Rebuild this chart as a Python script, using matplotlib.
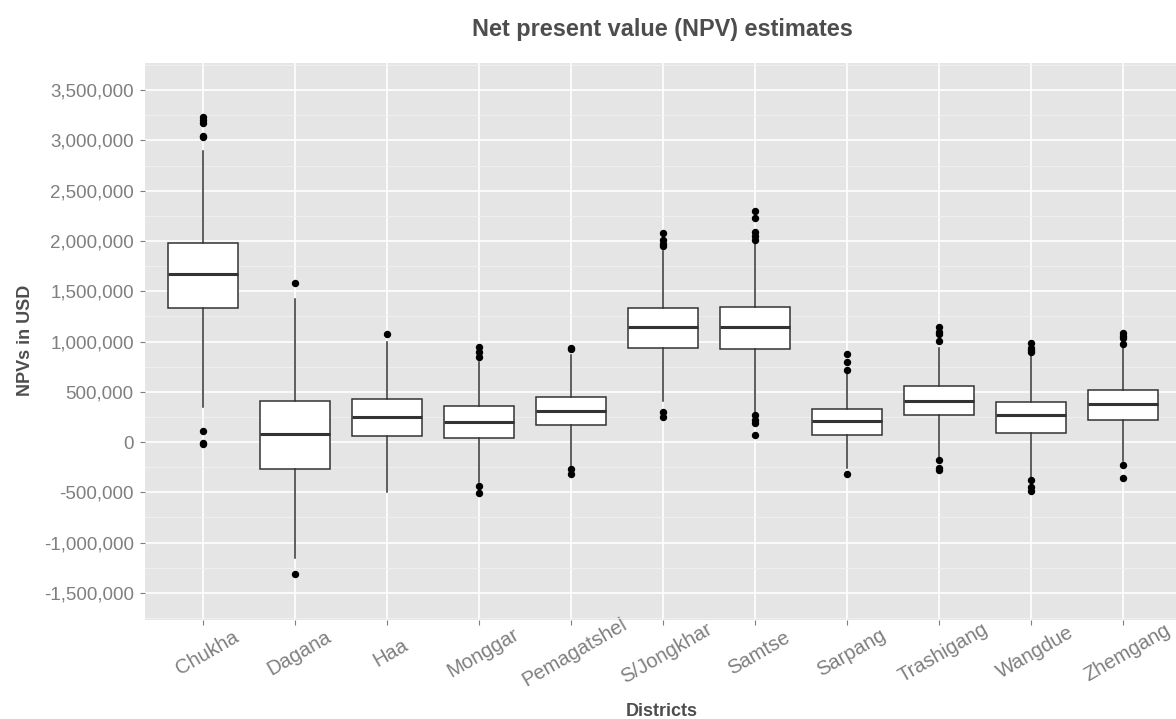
import matplotlib
matplotlib.use("Agg")
import matplotlib.pyplot as plt
from matplotlib.ticker import FuncFormatter, MultipleLocator
from matplotlib.transforms import ScaledTranslation

plt.rcParams['font.family'] = ['Liberation Sans', 'DejaVu Sans']

# NPV summary per district (USD)
districts = ["Chukha", "Dagana", "Haa", "Monggar", "Pemagatshel", "S/Jongkhar",
             "Samtse", "Sarpang", "Trashigang", "Wangdue", "Zhemgang"]
whisker_lo = [352000, -1151000, -501000, -395000, -239000, 409000,
              294000, -257000, -159000, -358000, -185000]
q1 = [1333000, -269000, 60000, 43000, 172000, 934000,
      921000, 73000, 272000, 86000, 215000]
median = [1668000, 80000, 252000, 196000, 305000, 1142000,
          1142000, 208000, 407000, 265000, 377000]
q3 = [1984000, 411000, 428000, 355000, 444000, 1333000,
      1343000, 327000, 553000, 397000, 513000]
whisker_hi = [2896000, 1420000, 998000, 793000, 866000, 1904000,
              1970000, 690000, 940000, 877000, 950000]
outliers = [
    [3230000, 3200000, 3175000, 3045000, 3030000, 105000, -5000, -20000],
    [1582000, -1310000],
    [1071000],
    [949000, 896000, 843000, -435000, -504000],
    [940000, 925000, -272000, -318000],
    [2076000, 2013000, 1970000, 1947000, 297000, 248000],
    [2300000, 2224000, 2086000, 2053000, 2013000, 264000, 221000, 188000, 66000],
    [875000, 799000, 716000, -314000],
    [1149000, 1099000, 1073000, 1007000, -175000, -258000, -281000],
    [990000, 940000, 917000, 891000, -374000, -447000, -490000],
    [1083000, 1056000, 1033000, 973000, -232000, -358000],
]

stats = []
for i, name in enumerate(districts):
    stats.append(dict(label=name, whislo=whisker_lo[i], q1=q1[i], med=median[i],
                      q3=q3[i], whishi=whisker_hi[i], fliers=outliers[i]))

W, H = 1176, 719
fig = plt.figure(figsize=(W / 100, H / 100), dpi=100)
ax = fig.add_axes([145 / W, (H - 620) / H, (W - 145) / W, (620 - 62.7) / H])
ax.set_facecolor('#E5E5E5')
for s in ax.spines.values():
    s.set_visible(False)

edge = '#333333'
ax.bxp(stats, positions=range(len(districts)), widths=0.76, patch_artist=True,
       showcaps=False,
       boxprops=dict(facecolor='white', edgecolor=edge, linewidth=1.1),
       whiskerprops=dict(color=edge, linewidth=1.1),
       medianprops=dict(color=edge, linewidth=2.2, solid_capstyle='butt'),
       flierprops=dict(marker='o', markersize=4.3, markerfacecolor='black',
                       markeredgecolor='black'),
       zorder=3)

ax.set_xlim(-0.63, 10.576)
ax.set_ylim(-1771000, 3774000)

ax.yaxis.set_major_locator(MultipleLocator(500000))
ax.yaxis.set_minor_locator(MultipleLocator(250000))
ax.yaxis.set_major_formatter(FuncFormatter(lambda v, p: f"{v:,.0f}"))

ax.grid(which='major', color='white', linewidth=1.2, zorder=0)
ax.grid(which='minor', axis='y', color='#F2F2F2', linewidth=0.6, zorder=0)
ax.set_axisbelow(True)

ax.tick_params(axis='y', which='major', length=3.6, width=0.8, color='#7f7f7f',
               labelcolor='#7f7f7f', labelsize=13.5, pad=4.5)
ax.tick_params(axis='y', which='minor', length=0)
ax.tick_params(axis='x', length=3.6, width=0.8, color='#7f7f7f',
               labelcolor='#7f7f7f', labelsize=14.5, pad=20)
ax.set_xticks(range(len(districts)))
ax.set_xticklabels(districts, rotation=30, ha='center', va='center',
                   rotation_mode='anchor')
# nudge the rotated labels a little to the right
nudge = ScaledTranslation(4 / 100, 0, fig.dpi_scale_trans)
for lab in ax.get_xticklabels():
    lab.set_transform(lab.get_transform() + nudge)

fig.text(662 / W, (H - 35.7) / H, "Net present value (NPV) estimates",
         ha='center', va='baseline', fontsize=16.9, fontweight='bold', color='#4d4d4d')
fig.text(26 / W, (H - 340) / H, "NPVs in USD", rotation=90, ha='center', va='center',
         fontsize=13, fontweight='bold', color='#4d4d4d')
fig.text(662 / W, (H - 716) / H, "Districts", ha='center', va='baseline',
         fontsize=13, fontweight='bold', color='#4d4d4d')

fig.savefig("out.png", dpi=100)
